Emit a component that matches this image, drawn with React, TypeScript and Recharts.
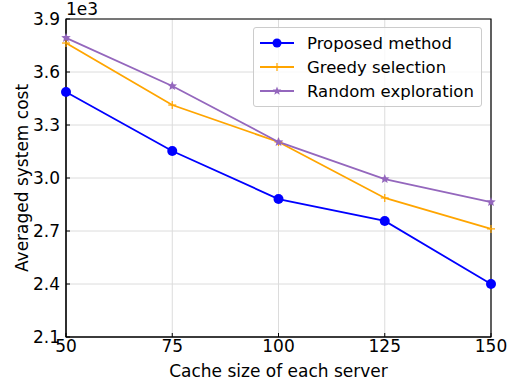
import React from 'react'
import {
  LineChart, Line, XAxis, YAxis, CartesianGrid, ReferenceArea,
} from 'recharts'

const cacheSizes = [50, 75, 100, 125, 150]
const proposed = [3487, 3153, 2881, 2757, 2400]
const greedy = [3764, 3413, 3204, 2887, 2712]
const randomExp = [3793, 3521, 3204, 2994, 2864]
const yTicks = [2100, 2400, 2700, 3000, 3300, 3600, 3900]

const data = cacheSizes.map((c, i) => ({
  size: c,
  proposed: proposed[i],
  greedy: greedy[i],
  random: randomExp[i],
}))

const FONT = "'DejaVu Sans', sans-serif"

function CircleDot({ cx, cy }: any) {
  if (cx == null || cy == null) return null
  return <circle cx={cx} cy={cy} r={5} fill="#0000ff" />
}

function PlusDot({ cx, cy }: any) {
  if (cx == null || cy == null) return null
  return (
    <g stroke="#ffa500" strokeWidth={1.2}>
      <line x1={cx - 4} y1={cy} x2={cx + 4} y2={cy} />
      <line x1={cx} y1={cy - 4} x2={cx} y2={cy + 4} />
    </g>
  )
}

function starPath(cx: number, cy: number, R: number, r: number) {
  let d = ''
  for (let i = 0; i < 10; i++) {
    const rad = i % 2 === 0 ? R : r
    const a = -Math.PI / 2 + (i * Math.PI) / 5
    d += (i === 0 ? 'M' : 'L') + (cx + rad * Math.cos(a)).toFixed(2) + ',' + (cy + rad * Math.sin(a)).toFixed(2)
  }
  return d + 'Z'
}

function StarDot({ cx, cy }: any) {
  if (cx == null || cy == null) return null
  return <path d={starPath(cx, cy, 5, 2.2)} fill="#9467bd" />
}

const legendItems = [
  { label: 'Proposed method', color: '#0000ff', kind: 'circle' },
  { label: 'Greedy selection', color: '#ffa500', kind: 'plus' },
  { label: 'Random exploration', color: '#9467bd', kind: 'star' },
]

function LegendBox() {
  return (
    <div style={{
      position: 'absolute', left: 253, top: 27,
      border: '1px solid #cccccc', borderRadius: 3, background: 'rgba(255,255,255,0.8)',
      padding: '3px 7px 3px 6px', fontFamily: FONT, fontSize: 16.5, color: '#000',
    }}>
      {legendItems.map(it => (
        <div key={it.label} style={{ display: 'flex', alignItems: 'center', height: 24 }}>
          <svg width={34} height={12} style={{ marginRight: 13 }}>
            <line x1={0} y1={6} x2={34} y2={6} stroke={it.color} strokeWidth={2} />
            {it.kind === 'circle' && <circle cx={17} cy={6} r={4.5} fill={it.color} />}
            {it.kind === 'plus' && (
              <g stroke={it.color} strokeWidth={1.2}>
                <line x1={17} y1={2} x2={17} y2={10} />
              </g>
            )}
            {it.kind === 'star' && <path d={starPath(17, 6, 4.5, 2)} fill={it.color} />}
          </svg>
          <span>{it.label}</span>
        </div>
      ))}
    </div>
  )
}

export default function App() {
  const tickStyle = { fontSize: 17, fill: '#000', fontFamily: FONT }
  return (
    <div style={{ position: 'absolute', left: 0, top: 0, width: 516, height: 383, background: '#fff' }}>
      <LineChart width={516} height={383} data={data} margin={{ top: 19, right: 25, bottom: 0, left: 0 }}>
        <CartesianGrid stroke="#dcdcdc" strokeWidth={1} />
        <XAxis
          dataKey="size" type="number" domain={[50, 150]} ticks={cacheSizes}
          height={46} tickSize={-4} tickMargin={7}
          tick={tickStyle} stroke="#000"
          label={{ value: 'Cache size of each server', position: 'insideBottom', offset: 6, style: { fontSize: 17, fill: '#000', fontFamily: FONT } }}
        />
        <YAxis
          type="number" domain={[2100, 3900]} ticks={yTicks} width={66}
          tickSize={-4} tickMargin={10} tick={tickStyle} stroke="#000"
          tickFormatter={(v: number) => (v / 1000).toFixed(1)}
          label={{ value: 'Averaged system cost', angle: -90, position: 'insideLeft', offset: 22, style: { textAnchor: 'middle', fontSize: 17, fill: '#000', fontFamily: FONT } }}
        />
        <ReferenceArea x1={50} x2={150} y1={2100} y2={3900} fill="none" stroke="#000" strokeWidth={1.2} ifOverflow="visible" />
        <Line dataKey="proposed" name="Proposed method" stroke="#0000ff" strokeWidth={1.8} dot={<CircleDot />} isAnimationActive={false} />
        <Line dataKey="greedy" name="Greedy selection" stroke="#ffa500" strokeWidth={1.8} dot={<PlusDot />} isAnimationActive={false} />
        <Line dataKey="random" name="Random exploration" stroke="#9467bd" strokeWidth={1.8} dot={<StarDot />} isAnimationActive={false} />
      </LineChart>
      <LegendBox />
      <div style={{ position: 'absolute', left: 66, top: -1, fontFamily: FONT, fontSize: 17, color: '#000' }}>1e3</div>
    </div>
  )
}
